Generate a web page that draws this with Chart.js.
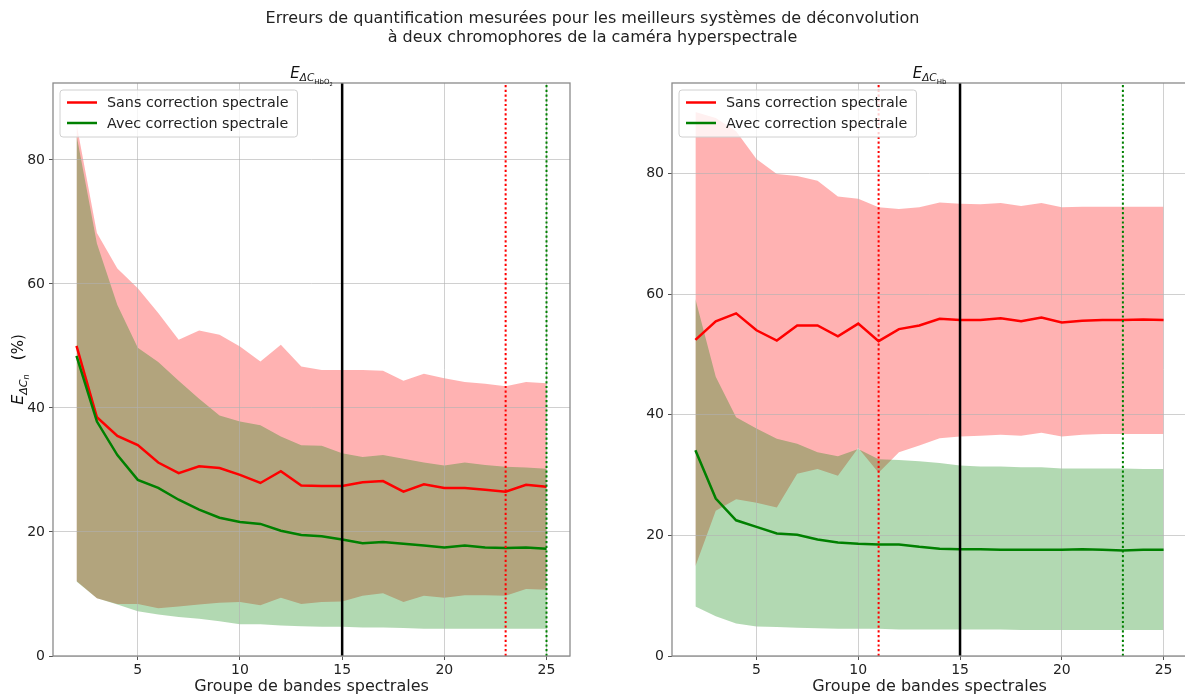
<!DOCTYPE html>
<html lang="fr">
<head>
<meta charset="utf-8">
<script src="https://cdn.jsdelivr.net/npm/chart.js@4.4.1/dist/chart.umd.min.js"></script>
<style>
  html, body { margin: 0; padding: 0; background: #fff; overflow: hidden; }
  body { width: 1185px; height: 698px; position: relative; font-family: "DejaVu Sans", sans-serif; }
  canvas { position: absolute; top: 0; }
  #chartHbO2 { left: 0; }
  #chartHb { left: 600px; }
  #suptitle { position: absolute; left: 0; top: 8px; width: 1185px; text-align: center;
              font-size: 16px; line-height: 19px; color: #222; }
</style>
</head>
<body>
<canvas id="chartHbO2" width="600" height="698"></canvas>
<canvas id="chartHb" width="600" height="698"></canvas>
<div id="suptitle">Erreurs de quantification mesurées pour les meilleurs systèmes de déconvolution<br>à deux chromophores de la caméra hyperspectrale</div>
<script>
// groupes de bandes spectrales (axe x)
const groups = [2, 3, 4, 5, 6, 7, 8, 9, 10, 11, 12, 13, 14, 15, 16, 17, 18, 19, 20, 21, 22, 23, 24, 25];
const xTicks = [5, 10, 15, 20, 25];
const yTicks = [0, 20, 40, 60, 80];

// E_dC HbO2 : moyenne et enveloppe min/max
const hbo2SansMean = [50.0, 38.5, 35.5, 34.0, 31.2, 29.5, 30.6, 30.3, 29.2, 27.9, 29.8, 27.5, 27.4, 27.4, 28.0, 28.2, 26.5, 27.7, 27.1, 27.1, 26.8, 26.5, 27.6, 27.3];
const hbo2SansHigh = [85.8, 68.2, 62.5, 59.3, 55.3, 51.0, 52.5, 51.8, 49.9, 47.5, 50.2, 46.7, 46.1, 46.1, 46.1, 46.0, 44.4, 45.5, 44.8, 44.2, 43.9, 43.5, 44.2, 44.0];
const hbo2SansLow = [12.1, 9.3, 8.4, 8.4, 7.7, 8.0, 8.3, 8.6, 8.7, 8.2, 9.4, 8.4, 8.7, 8.8, 9.7, 10.1, 8.7, 9.7, 9.4, 9.8, 9.8, 9.7, 10.8, 10.7];
const hbo2AvecMean = [48.4, 37.8, 32.4, 28.4, 27.1, 25.2, 23.6, 22.3, 21.6, 21.3, 20.2, 19.5, 19.3, 18.8, 18.2, 18.4, 18.1, 17.8, 17.5, 17.8, 17.5, 17.4, 17.5, 17.3];
const hbo2AvecHigh = [84.0, 66.5, 56.6, 49.7, 47.4, 44.4, 41.5, 38.8, 37.8, 37.2, 35.4, 34.0, 33.9, 32.7, 32.1, 32.4, 31.8, 31.2, 30.7, 31.2, 30.8, 30.5, 30.4, 30.2];
const hbo2AvecLow = [12.0, 9.3, 8.3, 7.2, 6.7, 6.3, 6.0, 5.6, 5.1, 5.1, 4.9, 4.8, 4.7, 4.7, 4.6, 4.6, 4.5, 4.4, 4.4, 4.4, 4.4, 4.4, 4.4, 4.4];
// [meilleur global, meilleur sans correction, meilleur avec correction]
const hbo2Best = [15, 23, 25];

// E_dC Hb
const hbSansMean = [52.4, 55.5, 56.8, 54.0, 52.3, 54.8, 54.8, 53.0, 55.1, 52.2, 54.2, 54.8, 55.9, 55.7, 55.7, 56.0, 55.5, 56.1, 55.3, 55.6, 55.7, 55.7, 55.8, 55.7];
const hbSansHigh = [90.2, 89.2, 87.0, 82.4, 79.9, 79.6, 78.8, 76.2, 75.8, 74.4, 74.1, 74.4, 75.2, 75.0, 74.9, 75.1, 74.6, 75.1, 74.4, 74.5, 74.5, 74.5, 74.5, 74.5];
const hbSansLow = [14.9, 24.1, 26.0, 25.4, 24.6, 30.2, 31.0, 29.9, 34.5, 30.4, 33.8, 34.9, 36.1, 36.4, 36.5, 36.7, 36.5, 37.0, 36.4, 36.7, 36.8, 36.8, 36.8, 36.8];
const hbAvecMean = [34.1, 26.1, 22.5, 21.4, 20.3, 20.1, 19.3, 18.8, 18.6, 18.5, 18.5, 18.1, 17.8, 17.7, 17.7, 17.6, 17.6, 17.6, 17.6, 17.7, 17.6, 17.5, 17.6, 17.6];
const hbAvecHigh = [59.2, 46.3, 39.6, 37.7, 36.0, 35.2, 33.8, 33.1, 34.3, 32.6, 32.5, 32.3, 32.0, 31.6, 31.4, 31.4, 31.3, 31.3, 31.1, 31.1, 31.1, 31.1, 31.0, 31.0];
const hbAvecLow = [8.2, 6.6, 5.4, 4.9, 4.8, 4.7, 4.6, 4.5, 4.5, 4.5, 4.4, 4.4, 4.4, 4.4, 4.4, 4.4, 4.3, 4.3, 4.3, 4.3, 4.3, 4.3, 4.3, 4.3];
const hbBest = [15, 11, 23];

const FONT = '"DejaVu Sans", sans-serif';
const RED = '#ff0000';
const GREEN = '#008000';

const pts = arr => groups.map((g, i) => ({ x: g, y: arr[i] }));

// math-style label: [text, size, dy, italic]
function drawMath(ctx, parts, x, y) {
  let w = 0;
  for (const p of parts) {
    ctx.font = (p[3] ? 'italic ' : '') + p[1] + 'px ' + FONT;
    w += ctx.measureText(p[0]).width;
  }
  let cx = x - w / 2;
  ctx.textAlign = 'left';
  for (const p of parts) {
    ctx.font = (p[3] ? 'italic ' : '') + p[1] + 'px ' + FONT;
    ctx.fillText(p[0], cx, y + p[2]);
    cx += ctx.measureText(p[0]).width;
  }
}

const panelDecor = {
  id: 'panelDecor',
  afterDraw(chart, args, opts) {
    const { ctx, chartArea: a } = chart;
    ctx.save();
    ctx.strokeStyle = '#8a8a8a';
    ctx.lineWidth = 1.3;
    ctx.strokeRect(a.left, a.top, a.right - a.left, a.bottom - a.top);

    ctx.fillStyle = '#111';
    ctx.textBaseline = 'alphabetic';
    drawMath(ctx, opts.title, (a.left + a.right) / 2, 78);
    if (opts.yLabel) {
      ctx.save();
      ctx.translate(23, (a.top + a.bottom) / 2);
      ctx.rotate(-Math.PI / 2);
      drawMath(ctx, opts.yLabel, 0, 0);
      ctx.restore();
    }

    // legend box, upper left
    const items = chart.data.datasets.filter(d => d.inLegend);
    ctx.font = '14.3px ' + FONT;
    const tw = Math.max(...items.map(d => ctx.measureText(d.label).width));
    const bx = a.left + 7, by = a.top + 7, bw = 47 + tw + 9, bh = 47;
    ctx.fillStyle = 'rgba(255,255,255,0.8)';
    ctx.strokeStyle = '#d0d0d0';
    ctx.lineWidth = 1;
    ctx.beginPath();
    ctx.roundRect(bx, by, bw, bh, 3);
    ctx.fill();
    ctx.stroke();
    items.forEach((d, i) => {
      const cy = by + 12.5 + i * 20.5;
      ctx.strokeStyle = d.borderColor;
      ctx.lineWidth = 2.5;
      ctx.beginPath();
      ctx.moveTo(bx + 7, cy);
      ctx.lineTo(bx + 37, cy);
      ctx.stroke();
      ctx.fillStyle = '#222';
      ctx.textBaseline = 'middle';
      ctx.fillText(d.label, bx + 47, cy + 1);
    });
    ctx.restore();
  }
};

// enveloppe min/max remplie entre deux courbes invisibles
function band(lo, hi, color, order) {
  return [
    { data: pts(lo), borderColor: 'rgba(0,0,0,0)', pointRadius: 0, fill: false, order: order },
    { data: pts(hi), borderColor: 'rgba(0,0,0,0)', pointRadius: 0, fill: '-1', backgroundColor: color, order: order }
  ];
}

function vline(x, yMax, color, dash, width) {
  return { data: [{ x: x, y: 0 }, { x: x, y: yMax }], borderColor: color, borderWidth: width,
           borderDash: dash, pointRadius: 0, fill: false, order: 0 };
}

function makePanel(id, s, yMax, best, yAxisWidth, padRight, title, yLabel) {
  // les courbes moyennes d'abord : une cible de remplissage d'indice 0 serait ignorée
  const datasets = [
    { label: 'Sans correction spectrale', inLegend: true, data: pts(s.sansMean), borderColor: RED,
      borderWidth: 2.5, pointRadius: 0, fill: false, order: 2 },
    { label: 'Avec correction spectrale', inLegend: true, data: pts(s.avecMean), borderColor: GREEN,
      borderWidth: 2.5, pointRadius: 0, fill: false, order: 1 },
    ...band(s.sansLow, s.sansHigh, 'rgba(255,0,0,0.3)', 4),
    ...band(s.avecLow, s.avecHigh, 'rgba(0,128,0,0.3)', 3),
    vline(best[0], yMax, '#000', [], 2.5),
    vline(best[1], yMax, RED, [2.2, 2.5], 2),
    vline(best[2], yMax, GREEN, [2.2, 2.5], 2)
  ];
  const grid = { color: 'rgba(176,176,176,0.6)', lineWidth: 1, tickLength: 4, tickColor: '#555' };
  return new Chart(document.getElementById(id), {
    type: 'line',
    data: { datasets },
    plugins: [panelDecor],
    options: {
      responsive: false,
      animation: false,
      events: [],
      elements: { line: { tension: 0 } },
      layout: { padding: { left: 0, top: 83, right: padRight, bottom: 0 } },
      scales: {
        x: {
          type: 'linear', min: 0.85, max: 26.15,
          afterBuildTicks: sc => { sc.ticks = xTicks.map(v => ({ value: v })); },
          afterFit: sc => { sc.height = 42; },
          grid, border: { display: false },
          ticks: { color: '#222', font: { family: FONT, size: 14 }, padding: 2, maxRotation: 0, autoSkip: false },
          title: { display: true, text: 'Groupe de bandes spectrales', color: '#222',
                   font: { family: FONT, size: 16 }, padding: { top: 0, bottom: 2 } }
        },
        y: {
          min: 0, max: yMax,
          afterBuildTicks: sc => { sc.ticks = yTicks.map(v => ({ value: v })); },
          afterFit: sc => { sc.width = yAxisWidth; },
          grid, border: { display: false },
          ticks: { color: '#222', font: { family: FONT, size: 14 }, padding: 4 }
        }
      },
      plugins: {
        legend: { display: false },
        tooltip: { enabled: false },
        filler: { drawTime: 'beforeDraw' },
        panelDecor: { title, yLabel }
      }
    }
  });
}

makePanel('chartHbO2', {
  sansMean: hbo2SansMean, sansHigh: hbo2SansHigh, sansLow: hbo2SansLow,
  avecMean: hbo2AvecMean, avecHigh: hbo2AvecHigh, avecLow: hbo2AvecLow
}, 92.4, hbo2Best, 53, 30,
  [['E', 15, 0, true], ['ΔC', 10.5, 3, true], ['HbO', 7, 6, false], ['2', 5, 7.5, false]],
  [['E', 16, 0, true], ['ΔC', 11, 3.5, true], ['n', 8, 6, true], ['   (%)', 15, 0, false]]);

makePanel('chartHb', {
  sansMean: hbSansMean, sansHigh: hbSansHigh, sansLow: hbSansLow,
  avecMean: hbAvecMean, avecHigh: hbAvecHigh, avecLow: hbAvecLow
}, 95, hbBest, 72, 13,
  [['E', 15, 0, true], ['ΔC', 10.5, 3, true], ['Hb', 7, 6, false]],
  null);
</script>
</body>
</html>
